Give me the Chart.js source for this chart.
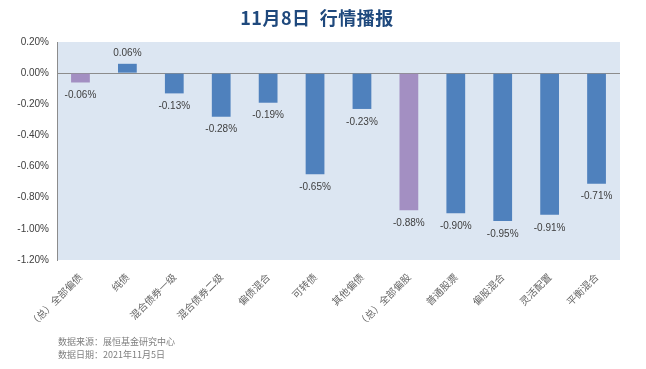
<!DOCTYPE html>
<html>
<head>
<meta charset="utf-8">
<script src="https://cdn.jsdelivr.net/npm/chart.js@4"></script>
<style>
  body { margin: 0; background: #fff; }
  #wrap { position: relative; width: 646px; height: 369px; }
  #title {
    position: absolute; left: 0; top: 4px; width: 634px; text-align: center;
    font: bold 18px "Liberation Sans Narrow", "Noto Sans CJK SC", sans-serif;
    color: #1f497d; letter-spacing: 0.5px;
  }
  .note {
    position: absolute; left: 58px;
    font: 9px "Noto Sans CJK SC", sans-serif; color: #7f7f7f;
  }
</style>
</head>
<body>
<div id="wrap">
  <canvas id="chart" width="646" height="369"></canvas>
  <div id="title">11月8日&nbsp;&nbsp;行情播报</div>
  <div class="note" style="top:335px">数据来源：展恒基金研究中心</div>
  <div class="note" style="top:348px">数据日期：2021年11月5日</div>
</div>
<script>
const categories = [
  "（总）全部偏债", "纯债", "混合债券一级", "混合债券二级", "偏债混合", "可转债",
  "其他偏债", "（总）全部偏股", "普通股票", "偏股混合", "灵活配置", "平衡混合"
];
const changes = [-0.06, 0.06, -0.13, -0.28, -0.19, -0.65, -0.23, -0.88, -0.90, -0.95, -0.91, -0.71];
const summaryRows = ["（总）全部偏债", "（总）全部偏股"];

const blue = "#4f81bd";
const purple = "#a38fc2";

// light blue plot background
const plotBackground = {
  id: "plotBackground",
  beforeDraw(chart) {
    const { ctx, chartArea: a } = chart;
    ctx.save();
    ctx.fillStyle = "#dce6f2";
    ctx.fillRect(a.left, a.top, a.right - a.left, a.bottom - a.top);
    ctx.restore();
  }
};

// value labels under/over each bar
const valueLabels = {
  id: "valueLabels",
  afterDatasetsDraw(chart) {
    const { ctx } = chart;
    const meta = chart.getDatasetMeta(0);
    ctx.save();
    ctx.font = "10px 'Liberation Sans', sans-serif";
    ctx.fillStyle = "#404040";
    ctx.textAlign = "center";
    ctx.textBaseline = "middle";
    meta.data.forEach((bar, i) => {
      const v = changes[i];
      const y = v < 0 ? bar.y + 13 : bar.y - 11;
      ctx.fillText(v.toFixed(2) + "%", bar.x, y);
    });
    ctx.restore();
  }
};

new Chart(document.getElementById("chart"), {
  type: "bar",
  data: {
    labels: categories,
    datasets: [{
      data: changes,
      backgroundColor: categories.map((c) => summaryRows.includes(c) ? purple : blue),
      borderWidth: 0,
      barPercentage: 0.4,
      categoryPercentage: 1
    }]
  },
  options: {
    responsive: false,
    animation: false,
    layout: { padding: { top: 42, right: 26, left: 0, bottom: 0 } },
    plugins: {
      legend: { display: false },
      tooltip: { enabled: false }
    },
    scales: {
      x: {
        grid: { display: false },
        border: { display: false },
        ticks: {
          minRotation: 45,
          maxRotation: 45,
          color: "#666666",
          font: { family: "'Noto Sans CJK SC', sans-serif", size: 10 },
          padding: 3
        },
        afterFit(scale) { scale.height = 109; }
      },
      y: {
        min: -1.2,
        max: 0.2,
        ticks: {
          stepSize: 0.2,
          color: "#404040",
          font: { family: "'Liberation Sans', sans-serif", size: 10 },
          padding: 8,
          callback: (v) => (Math.abs(v) < 1e-9 ? 0 : v).toFixed(2) + "%"
        },
        grid: {
          drawTicks: false,
          color: (ctx) => Math.abs(ctx.tick.value) < 1e-9 ? "#8c8c8c" : "transparent",
          lineWidth: 1
        },
        border: { color: "#8c8c8c" },
        afterFit(scale) { scale.width = 57; }
      }
    }
  },
  plugins: [plotBackground, valueLabels]
});
</script>
</body>
</html>
